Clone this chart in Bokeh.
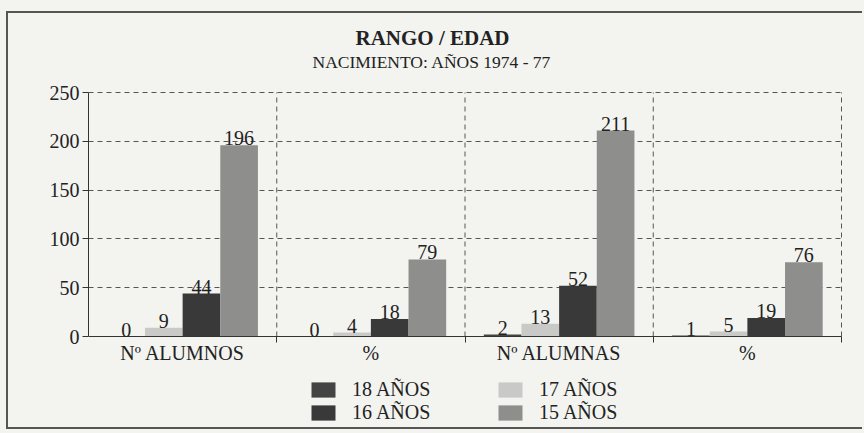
from bokeh.plotting import figure
from bokeh.models import ColumnDataSource, FixedTicker, Legend, LegendItem, Title, LabelSet, Range1d
from bokeh.embed import file_html
from bokeh.resources import INLINE

# ---- data ----
groups = ["Nº ALUMNOS", "%", "Nº ALUMNAS", "%"]
series = ["18 AÑOS", "17 AÑOS", "16 AÑOS", "15 AÑOS"]
v18 = [0, 0, 2, 1]
v17 = [9, 4, 13, 5]
v16 = [44, 18, 52, 19]
v15 = [196, 79, 211, 76]
y_ticks = [0, 50, 100, 150, 200, 250]

values = [v18, v17, v16, v15]
colors = ["#444444", "#c9c9c7", "#393939", "#8e8e8d"]
FONT = "Liberation Serif"
BG = "#f3f3f0"
TXT = "#222222"
FS = "20px"

# layout (pixels inside the figure)
W, H = 856, 418
TOP, BOTTOM, LEFT, RIGHT = 77, 5, 80, 21
AXIS_GAP = 90          # px between the value-0 line and the frame bottom (legend area)
PAD = 2                # px kept free beyond the top/right gridlines
frame_h = H - TOP - BOTTOM
frame_w = W - LEFT - RIGHT
y_max = y_ticks[-1]
ppu = (frame_h - AXIS_GAP - PAD) / y_max
n = len(groups)
ppx = (frame_w - PAD) / n

p = figure(width=W, height=H, output_backend="svg", toolbar_location=None,
           x_range=Range1d(0, n + PAD / ppx),
           y_range=Range1d(-AXIS_GAP / ppu, y_max + PAD / ppu),
           min_border_left=LEFT, min_border_right=RIGHT, min_border_top=TOP, min_border_bottom=BOTTOM,
           background_fill_color=BG, border_fill_color=BG, outline_line_color=None)
p.styles = {"margin-left": "6px", "margin-top": "11px",
            "border-left": "2px solid #555", "border-top": "2px solid #555",
            "border-bottom": "2px solid #555"}

p.add_layout(Title(text="NACIMIENTO: AÑOS 1974 - 77", align="left", offset=224, standoff=37,
                   text_font=FONT, text_font_size="17.5px", text_font_style="normal",
                   text_color=TXT), "above")
p.add_layout(Title(text="RANGO / EDAD", align="left", offset=267, standoff=-36,
                   text_font=FONT, text_font_size="21px", text_font_style="bold",
                   text_color=TXT), "above")

# group separators (dashed)
seps = list(range(1, n + 1))
p.segment(x0=seps, x1=seps, y0=[0] * len(seps), y1=[y_max] * len(seps),
          line_color="#555555", line_dash="5 4", line_width=1)

renderers = []
width = 1.0 / (len(series) + 1)
for si, (name, vals, col) in enumerate(zip(series, values, colors)):
    xs = [gi + width * (si + 1) for gi in range(n)]
    src = ColumnDataSource(dict(x=xs, top=vals, lbl=[str(v) for v in vals]))
    r = p.vbar(x="x", top="top", width=width, source=src, fill_color=col, line_color=None)
    renderers.append(r)
    p.add_layout(LabelSet(x="x", y="top", text="lbl", source=src, text_align="center",
                          text_baseline="bottom", text_font=FONT, text_font_size=FS,
                          text_color=TXT))

# axes
p.yaxis.ticker = FixedTicker(ticks=y_ticks)
p.yaxis.bounds = (0, y_max)
p.yaxis.major_label_text_font = FONT
p.yaxis.major_label_text_font_size = FS
p.yaxis.major_label_text_color = TXT
p.yaxis.axis_line_color = "#333333"
p.yaxis.major_tick_line_color = "#333333"
p.yaxis.major_tick_out = 6
p.yaxis.major_tick_in = 0
p.yaxis.minor_tick_line_color = None
p.yaxis.major_label_standoff = 3

centers = [gi + 0.5 for gi in range(n)]
p.xaxis.fixed_location = 0
p.xaxis.bounds = (0, n)
p.xaxis.ticker = FixedTicker(ticks=centers, minor_ticks=seps)
p.xaxis.major_label_overrides = {c: g for c, g in zip(centers, groups)}
p.xaxis.major_label_text_font = FONT
p.xaxis.major_label_text_font_size = FS
p.xaxis.major_label_text_color = TXT
p.xaxis.axis_line_color = "#333333"
p.xaxis.major_tick_line_color = None
p.xaxis.minor_tick_line_color = "#333333"
p.xaxis.minor_tick_out = 6
p.xaxis.minor_tick_in = 0
p.xaxis.major_label_standoff = -1

p.xgrid.visible = False
p.ygrid.ticker = FixedTicker(ticks=y_ticks[1:])
p.ygrid.bounds = (0, n)
p.ygrid.grid_line_color = "#555555"
p.ygrid.grid_line_dash = "5 4"
p.ygrid.grid_line_width = 1

# legend: two columns under the chart
for loc_x, idxs in [(220, [0, 2]), (407, [1, 3])]:
    leg = Legend(items=[LegendItem(label=series[i], renderers=[renderers[i]]) for i in idxs],
                 location=(loc_x, 2), orientation="vertical",
                 glyph_width=30, glyph_height=19, label_height=20, spacing=-3,
                 label_standoff=14, padding=0, margin=0,
                 label_text_font=FONT, label_text_font_size=FS, label_text_color=TXT,
                 border_line_color=None, background_fill_alpha=0)
    p.add_layout(leg)

html = file_html(p, INLINE)
html = html.replace("<body>", '<body style="background:%s">' % BG)
open("out.html", "w").write(html)
